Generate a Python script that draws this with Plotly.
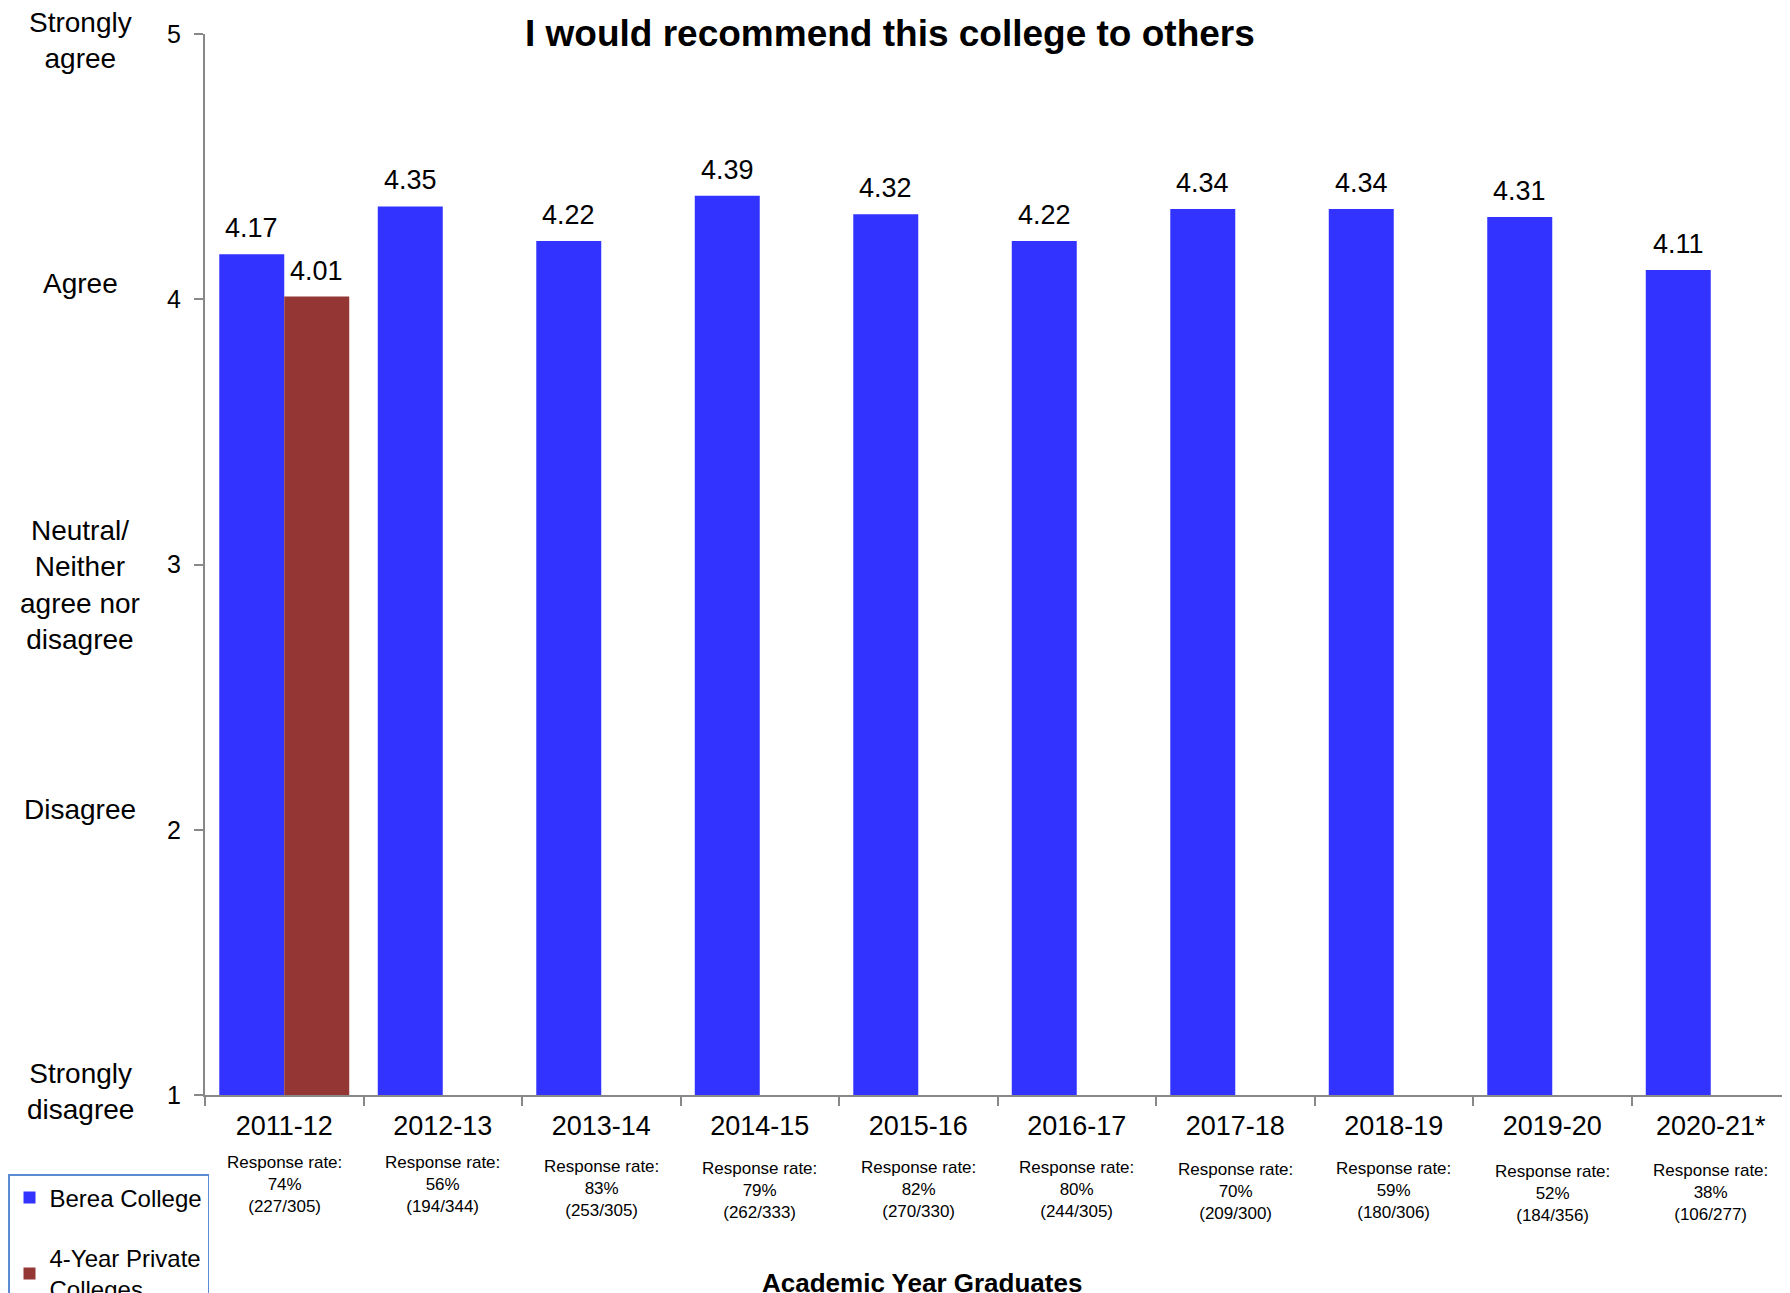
import plotly.graph_objects as go

years = ["2011-12", "2012-13", "2013-14", "2014-15", "2015-16", "2016-17",
         "2017-18", "2018-19", "2019-20", "2020-21*"]
berea = [4.17, 4.35, 4.22, 4.39, 4.32, 4.22, 4.34, 4.34, 4.31, 4.11]
private4 = [4.01, None, None, None, None, None, None, None, None, None]
resp_pct = ["74%", "56%", "83%", "79%", "82%", "80%", "70%", "59%", "52%", "38%"]
resp_n = ["(227/305)", "(194/344)", "(253/305)", "(262/333)", "(270/330)",
          "(244/305)", "(209/300)", "(180/306)", "(184/356)", "(106/277)"]
resp_offset = [0, 0, 4, 6, 5, 5, 7, 6, 9, 8]  # small vertical shifts, px
scale_vals = [5, 4, 3, 2, 1]
scale_labels = ["Strongly<br>agree", "Agree", "Neutral/<br>Neither<br>agree nor<br>disagree",
                "Disagree", "Strongly<br>disagree"]
scale_shift = [-6, 16, -20, 20, 4]

FONT = "Liberation Sans, Arial, sans-serif"
W, H = 1782, 1285
ML, MT, MB, MR = 197, 26, 198, 0
PW = W - ML - MR
PH = H - MT - MB
BAR_HALF = 0.41 * PW / len(years) / 2

fig = go.Figure()
fig.add_trace(go.Bar(
    x=years, y=berea, name="Berea College",
    marker=dict(color="#3333FF", line=dict(width=0)),
    legendgroup="a", hoverinfo="x+y",
))
fig.add_trace(go.Bar(
    x=years, y=private4, name="4-Year Private<br>Colleges",
    marker=dict(color="#943634", line=dict(width=0)),
    legendgroup="b", hoverinfo="x+y",
))

annotations = []
# value labels above bars
for yr, v in zip(years, berea):
    annotations.append(dict(
        text=f"{v:.2f}", xref="x", yref="y", x=yr, y=v, xshift=-BAR_HALF, yshift=9,
        xanchor="center", yanchor="bottom", showarrow=False,
        font=dict(size=27, family=FONT, color="black")))
for yr, v in zip(years, private4):
    if v is not None:
        annotations.append(dict(
            text=f"{v:.2f}", xref="x", yref="y", x=yr, y=v, xshift=BAR_HALF, yshift=9,
            xanchor="center", yanchor="bottom", showarrow=False,
            font=dict(size=27, family=FONT, color="black")))

annotations.append(dict(
    text="<b>I would recommend this college to others</b>", xref="paper", yref="paper",
    x=(890 - 205) / PW, y=1, yshift=1, xanchor="center", yanchor="middle",
    showarrow=False, font=dict(size=37, family=FONT, color="black")))
annotations.append(dict(
    text="<b>Academic Year Graduates</b>", xref="paper", yref="paper",
    x=(922 - 205) / PW, y=0, yshift=-188, xanchor="center", yanchor="middle",
    showarrow=False, font=dict(size=26, family=FONT, color="black")))
for v, lab, sh in zip(scale_vals, scale_labels, scale_shift):
    annotations.append(dict(
        text=lab, xref="paper", yref="y", x=(80 - 205) / PW, y=v, yshift=sh,
        xanchor="center", yanchor="middle", showarrow=False, align="center",
        font=dict(size=28, family=FONT, color="black")))
for yr, p, n, off in zip(years, resp_pct, resp_n, resp_offset):
    annotations.append(dict(
        text=f"Response rate:<br>{p}<br>{n}", xref="x", yref="paper", x=yr, y=0,
        yshift=-56 - off, xanchor="center", yanchor="top", showarrow=False,
        align="center", font=dict(size=17, family=FONT, color="black")))

fig.update_layout(
    width=W, height=H,
    margin=dict(l=ML, r=MR, t=MT, b=MB, autoexpand=False),
    paper_bgcolor="white", plot_bgcolor="white",
    barmode="group", bargap=0.18, bargroupgap=0,
    font=dict(family=FONT, color="black"),
    showlegend=True,
    legend=dict(
        x=(8 - 205) / PW, y=(1095 - 1174) / PH, xanchor="left", yanchor="top",
        bordercolor="#5b8bd0", borderwidth=1.5, bgcolor="white",
        font=dict(size=24, family=FONT, color="black"),
        tracegroupgap=26, itemwidth=30,
    ),
    annotations=annotations,
)
fig.update_xaxes(
    type="category", showline=True, linecolor="#888888", linewidth=2,
    ticks="outside", ticklen=9, tickcolor="#888888", tickwidth=2,
    tickson="boundaries", showgrid=False,
    tickfont=dict(size=27, family=FONT, color="black"), ticklabelstandoff=6,
)
fig.update_yaxes(
    range=[1, 5], tickvals=scale_vals, showline=True, linecolor="#888888", linewidth=2,
    ticks="outside", ticklen=9, tickcolor="#888888", tickwidth=2, showgrid=False,
    zeroline=False, tickfont=dict(size=25, family=FONT, color="black"), ticklabelstandoff=8,
)

fig.write_html("out.html")
